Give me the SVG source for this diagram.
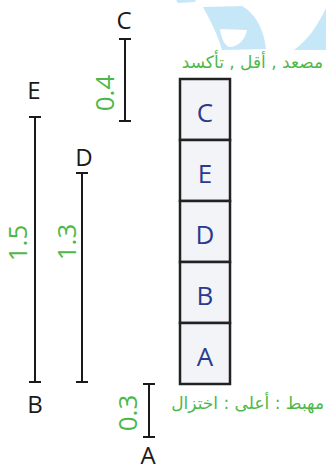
<svg xmlns="http://www.w3.org/2000/svg" width="326" height="466" viewBox="0 0 326 466">
<style>
.lbl{font-family:"Open Sans",sans-serif;font-size:24px;fill:#1a1a1a;text-anchor:middle}
.num{font-family:"Open Sans",sans-serif;font-size:26px;fill:#4db849;text-anchor:middle}
.ar{font-family:"DejaVu Sans",sans-serif;font-size:17px;fill:#4db849;text-anchor:end}
.bar{stroke:#1a1a1a;stroke-width:2;fill:none}
.box rect{fill:#f3f4f7;stroke:#222;stroke-width:2.5}
.box text{font-family:"Open Sans",sans-serif;font-size:26px;fill:#2b3a8c;text-anchor:middle}
</style>
<g id="watermark" fill="#c6e7f8">
<path d="M176,0 L196,0 L195,2 L178,3 Z"/>
<path fill-rule="evenodd" d="M203,7 L242,6 C256,14 264,30 266,49 L222,50 C218,35 210,20 203,7 Z M220,29 L247,30 C245,40 238,47 229,47 C223,44 221,36 220,29 Z"/>
<path d="M326,8 C318,25 308,40 294,50 L326,50 Z"/>
</g>
<g id="connectors">
<g id="bar-C"><path class="bar" d="M125,39 V121 M119,39 H131 M119,121 H131"/></g>
<g id="bar-E"><path class="bar" d="M35,117 V382 M29,117 H41 M29,382 H41"/></g>
<g id="bar-D"><path class="bar" d="M82,173 V382 M76,173 H88 M76,382 H88"/></g>
<g id="bar-A"><path class="bar" d="M149,384 V437 M143,384 H155 M143,437 H155"/></g>
</g>
<g id="labels">
<text class="lbl" x="124" y="29">C</text>
<text class="lbl" x="34" y="99">E</text>
<text class="lbl" x="84" y="166">D</text>
<text class="lbl" x="35" y="413">B</text>
<text class="lbl" x="148" y="464">A</text>
</g>
<g id="values">
<text class="num" transform="translate(105,93) rotate(-90)" dy="9">0.4</text>
<text class="num" transform="translate(18,243) rotate(-90)" dy="9">1.5</text>
<text class="num" transform="translate(67,242) rotate(-90)" dy="9">1.3</text>
<text class="num" transform="translate(128,413) rotate(-90)" dy="9">0.3</text>
</g>
<g id="stack">
<g id="box-C" class="box"><rect x="180" y="79" width="50" height="61"/><text x="205" y="122">C</text></g>
<g id="box-E" class="box"><rect x="180" y="140" width="50" height="61"/><text x="205" y="183">E</text></g>
<g id="box-D" class="box"><rect x="180" y="201" width="50" height="61"/><text x="205" y="244">D</text></g>
<g id="box-B" class="box"><rect x="180" y="262" width="50" height="61"/><text x="205" y="305">B</text></g>
<g id="box-A" class="box"><rect x="180" y="323" width="50" height="61"/><text x="205" y="366">A</text></g>
</g>
<g id="notes">
<text class="ar" x="323" y="68">مصعد , أقل , تأكسد</text>
<text class="ar" x="324" y="409">مهبط : أعلى : اختزال</text>
</g>
</svg>
